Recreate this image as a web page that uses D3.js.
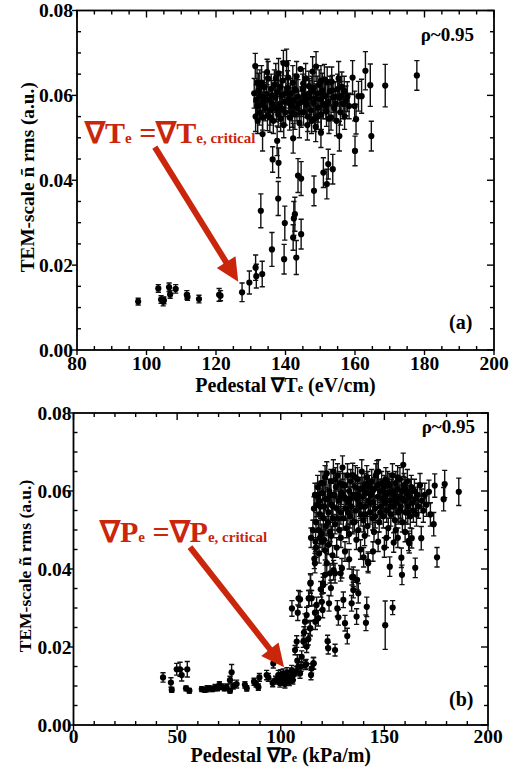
<!DOCTYPE html>
<html>
<head>
<meta charset="utf-8">
<script src="https://cdn.jsdelivr.net/npm/d3@7"></script>
<style>
  body { margin: 0; background: #fff; }
  text { font-family: "Liberation Serif", "Times New Roman", Times, serif; font-weight: bold; }
</style>
</head>
<body>
<div id="chart"></div>
<script>
/* TEM-scale fluctuation vs pedestal gradients, two panels */

// tick labels
var teTicks = [80, 100, 120, 140, 160, 180, 200];
var peTicks = [0, 50, 100, 150, 200];
var rmsTicks = [0.00, 0.02, 0.04, 0.06, 0.08];

// panel (a): [grad Te, rms, error]
var teLow = [
  [97.6,0.0114,0.0008],[103.4,0.0145,0.0009],[104.2,0.0119,0.0009],[104.8,0.0114,0.0010],[105.0,0.0117,0.0008],
  [106.5,0.0148,0.0010],[106.8,0.0131,0.0009],[108.4,0.0144,0.0010],[111.6,0.0130,0.0010],[111.8,0.0125,0.0008],
  [115.1,0.0120,0.0009],[120.9,0.0130,0.0015],[121.3,0.0128,0.0012],[127.5,0.0136,0.0022],[129.6,0.0159,0.0027],
  [131.4,0.0194,0.0030],[131.6,0.0174,0.0028],[133.3,0.0179,0.0030]
];
var teMid = [
  [132.9,0.0328,0.0040],[136.1,0.0237,0.0040],[137.9,0.0357,0.0040],[139.6,0.0214,0.0035],[139.8,0.0299,0.0040],
  [142.2,0.0265,0.0030],[142.4,0.0310,0.0040],[142.7,0.0320,0.0040],[143.1,0.0218,0.0040],[144.5,0.0273,0.0035],
  [143.6,0.0411,0.0040],[144.5,0.0404,0.0040],[148.2,0.0375,0.0035],[150.9,0.0418,0.0035],[151.9,0.0391,0.0035],
  [152.3,0.0438,0.0035],[153.6,0.0426,0.0035],[136.3,0.0449,0.0030],[138.0,0.0441,0.0035],[133.4,0.0509,0.0040],
  [137.6,0.0493,0.0035],[142.2,0.0499,0.0035],[148.7,0.0526,0.0035],[150.2,0.0512,0.0035],[155.5,0.0504,0.0035],
  [160.0,0.0469,0.0035],[160.3,0.0544,0.0035],[164.7,0.0504,0.0035]
];
var teHigh = [
  [131.0,0.0605,0.0035],[131.3,0.0669,0.0030],[131.6,0.0590,0.0035],[131.9,0.0575,0.0030],[132.2,0.0612,0.0040],
  [132.5,0.0560,0.0030],[132.8,0.0598,0.0035],[133.1,0.0630,0.0040],[133.4,0.0548,0.0030],[133.6,0.0585,0.0035],
  [133.9,0.0620,0.0035],[134.2,0.0570,0.0030],[134.5,0.0603,0.0040],[134.8,0.0552,0.0035],[135.0,0.0640,0.0040],
  [135.3,0.0590,0.0030],[135.6,0.0565,0.0035],[135.9,0.0615,0.0035],[136.2,0.0580,0.0040],[136.5,0.0540,0.0030],
  [136.8,0.0625,0.0035],[137.1,0.0595,0.0035],[137.4,0.0568,0.0030],[137.7,0.0608,0.0040],[138.0,0.0652,0.0035],
  [138.3,0.0578,0.0035],[138.6,0.0545,0.0030],[138.9,0.0600,0.0035],[139.2,0.0635,0.0045],[139.4,0.0676,0.0030],
  [139.7,0.0585,0.0035],[140.0,0.0560,0.0030],[140.3,0.0674,0.0035],[140.6,0.0618,0.0040],[140.9,0.0592,0.0035],
  [141.2,0.0548,0.0030],[141.5,0.0605,0.0035],[141.8,0.0575,0.0035],[142.1,0.0630,0.0040],[142.4,0.0588,0.0030],
  [142.7,0.0555,0.0035],[143.0,0.0612,0.0035],[143.3,0.0570,0.0030],[143.6,0.0597,0.0040],[144.0,0.0535,0.0035],
  [144.3,0.0662,0.0000],[144.6,0.0585,0.0035],[144.9,0.0615,0.0035],[145.2,0.0560,0.0030],[145.5,0.0600,0.0040],
  [145.8,0.0640,0.0035],[146.1,0.0578,0.0030],[146.4,0.0550,0.0035],[146.7,0.0622,0.0035],[147.0,0.0595,0.0040],
  [147.3,0.0565,0.0030],[147.6,0.0610,0.0035],[147.8,0.0656,0.0035],[148.1,0.0583,0.0035],[148.4,0.0545,0.0030],
  [148.8,0.0668,0.0035],[149.1,0.0605,0.0040],[149.4,0.0572,0.0035],[149.7,0.0625,0.0035],[150.0,0.0590,0.0030],
  [150.3,0.0555,0.0035],[150.6,0.0612,0.0040],[150.9,0.0580,0.0035],[151.2,0.0638,0.0035],[151.5,0.0598,0.0030],
  [151.8,0.0562,0.0035],[152.0,0.0632,0.0035],[152.4,0.0585,0.0040],[152.8,0.0610,0.0035],[153.1,0.0548,0.0030],
  [153.3,0.0632,0.0035],[153.7,0.0595,0.0035],[154.0,0.0570,0.0030],[154.3,0.0597,0.0035],[154.7,0.0540,0.0035],
  [155.0,0.0615,0.0035],[155.5,0.0595,0.0035],[155.8,0.0560,0.0030],[156.2,0.0620,0.0035],[156.6,0.0580,0.0035],
  [157.0,0.0550,0.0030],[157.4,0.0587,0.0035],[157.8,0.0597,0.0035],[158.3,0.0575,0.0030],[159.3,0.0642,0.0040],
  [159.9,0.0575,0.0035],[161.0,0.0598,0.0035],[161.9,0.0598,0.0040],[163.0,0.0658,0.0045],[164.4,0.0624,0.0050],
  [168.7,0.0623,0.0050],[177.8,0.0647,0.0035],
  [131.4,0.0550,0.0035],[132.0,0.0540,0.0030],[132.6,0.0625,0.0035],[133.3,0.0578,0.0030],[134.0,0.0595,0.0035],
  [134.7,0.0655,0.0030],[135.5,0.0548,0.0035],[136.0,0.0600,0.0035],[136.6,0.0572,0.0030],[137.2,0.0640,0.0035],
  [137.9,0.0555,0.0030],[138.5,0.0620,0.0035],[139.0,0.0568,0.0035],[139.5,0.0530,0.0030],[140.1,0.0605,0.0035],
  [140.8,0.0642,0.0040],[141.4,0.0580,0.0030],[142.0,0.0560,0.0035],[142.6,0.0615,0.0035],[143.2,0.0645,0.0035],
  [143.8,0.0580,0.0030],[144.5,0.0560,0.0035],[145.1,0.0628,0.0035],[145.7,0.0590,0.0030],[146.3,0.0530,0.0035],
  [146.9,0.0605,0.0035],[147.5,0.0540,0.0030],[148.2,0.0618,0.0035],[148.6,0.0592,0.0035],[149.3,0.0550,0.0030],
  [150.2,0.0635,0.0035],[150.8,0.0600,0.0035],[151.6,0.0575,0.0030],[152.5,0.0545,0.0035],[153.5,0.0612,0.0035],
  [154.5,0.0580,0.0035],[155.3,0.0640,0.0040],[156.0,0.0598,0.0035],[156.9,0.0610,0.0035],[131.8,0.0630,0.0040]
];

// panel (b): [grad Pe, rms, error]
var peLow = [
  [43.2,0.0122,0.0012],[47.0,0.0109,0.0012],[47.4,0.0090,0.0006],[49.8,0.0143,0.0015],[51.4,0.0143,0.0018],
  [52.2,0.0128,0.0015],[54.9,0.0143,0.0020],[54.3,0.0094,0.0006],[55.9,0.0088,0.0006],[61.9,0.0092,0.0006],
  [63.4,0.0090,0.0006],[64.5,0.0093,0.0008],[65.9,0.0094,0.0006],[67.0,0.0092,0.0006],[68.3,0.0096,0.0008],
  [69.5,0.0095,0.0007],[70.4,0.0103,0.0008],[71.5,0.0098,0.0007],[72.8,0.0094,0.0006],[73.9,0.0097,0.0008],
  [75.5,0.0115,0.0010],[76.3,0.0135,0.0020],[75.5,0.0088,0.0006],[77.1,0.0100,0.0008],[78.7,0.0105,0.0010],
  [82.7,0.0103,0.0008],[83.6,0.0094,0.0007],[87.1,0.0111,0.0009],[88.1,0.0105,0.0008],[89.7,0.0122,0.0010],
  [89.2,0.0097,0.0008],[93.2,0.0128,0.0012],[94.0,0.0122,0.0010],[96.1,0.0108,0.0010],[96.4,0.0158,0.0012],
  [97.5,0.0115,0.0010],[98.8,0.0128,0.0012],[99.6,0.0107,0.0010],[100.4,0.0120,0.0012],[101.2,0.0132,0.0012],
  [102.0,0.0105,0.0010],[102.9,0.0124,0.0012],[103.5,0.0115,0.0010],[104.1,0.0111,0.0010],[105.3,0.0141,0.0012],
  [106.1,0.0128,0.0012],[106.9,0.0192,0.0012],[107.7,0.0214,0.0015],[108.5,0.0150,0.0012],[109.3,0.0132,0.0012],
  [110.1,0.0175,0.0015],[110.9,0.0214,0.0015],[111.2,0.0237,0.0015],[112.2,0.0156,0.0012],[112.5,0.0201,0.0015],
  [113.3,0.0220,0.0015],[114.1,0.0248,0.0018],[114.6,0.0128,0.0012],[114.9,0.0145,0.0012],[115.7,0.0158,0.0015],
  [99.0,0.0118,0.0010],[100.0,0.0130,0.0012],[101.5,0.0112,0.0010],[103.0,0.0135,0.0012],[104.6,0.0125,0.0012],
  [105.8,0.0115,0.0010],[107.5,0.0138,0.0012],[108.0,0.0165,0.0015],[109.8,0.0150,0.0012],[111.9,0.0154,0.0012],
  [115.9,0.0158,0.0015]
];
var peMid = [
  [105.4,0.0299,0.0020],[108.2,0.0288,0.0020],[109.3,0.0322,0.0020],[111.7,0.0265,0.0020],[112.5,0.0282,0.0020],
  [113.6,0.0325,0.0020],[114.4,0.0365,0.0020],[114.9,0.0325,0.0020],[116.5,0.0288,0.0020],[117.3,0.0308,0.0020],
  [118.1,0.0274,0.0020],[119.3,0.0348,0.0020],[119.8,0.0316,0.0020],[120.5,0.0359,0.0020],[121.4,0.0385,0.0025],
  [120.2,0.0295,0.0020],[122.6,0.0215,0.0015],[122.9,0.0197,0.0015],[126.2,0.0192,0.0015],[123.3,0.0312,0.0020],
  [127.3,0.0299,0.0020],[127.8,0.0276,0.0020],[130.2,0.0321,0.0020],[131.0,0.0261,0.0020],[132.1,0.0228,0.0020],
  [134.2,0.0312,0.0020],[135.0,0.0346,0.0020],[136.6,0.0278,0.0020],[137.4,0.0338,0.0025],[141.1,0.0262,0.0020],
  [141.5,0.0303,0.0025],[124.2,0.0351,0.0020],[128.9,0.0389,0.0020],[150.4,0.0256,0.0062],[154.0,0.0301,0.0018],
  [113.5,0.0325,0.0020],[108.6,0.0325,0.0020],[116.7,0.0265,0.0020],[114.3,0.0248,0.0020],
  [114.6,0.0480,0.0025],[116.2,0.0426,0.0025],[114.3,0.0363,0.0025],[120.4,0.0363,0.0025],[125.5,0.0397,0.0025],
  [129.5,0.0402,0.0025],[134.4,0.0379,0.0020],[136.8,0.0372,0.0025],[142.1,0.0419,0.0025],[152.6,0.0406,0.0025],
  [158.5,0.0385,0.0025],[158.2,0.0429,0.0025],[164.9,0.0403,0.0025],[175.4,0.0430,0.0025],[173.8,0.0515,0.0030],
  [167.8,0.0479,0.0030],[161.7,0.0472,0.0025],[162.0,0.0466,0.0025],[163.2,0.0479,0.0025],[116.5,0.0415,0.0025],
  [122.2,0.0415,0.0025],[126.2,0.0389,0.0025],[123.8,0.0389,0.0025],[135.0,0.0380,0.0025],[142.2,0.0415,0.0025],
  [117.0,0.0455,0.0025],[118.5,0.0440,0.0025],[120.0,0.0470,0.0025],[121.5,0.0448,0.0025],[123.0,0.0462,0.0025],
  [125.0,0.0435,0.0025],[127.0,0.0455,0.0025],[131.0,0.0445,0.0025],[133.0,0.0425,0.0025],[138.5,0.0450,0.0025],
  [140.0,0.0430,0.0025],[144.5,0.0445,0.0025],[147.0,0.0470,0.0025],[150.0,0.0455,0.0025],[154.5,0.0468,0.0025],
  [156.5,0.0480,0.0025],[115.5,0.0500,0.0025],[116.8,0.0470,0.0025],[118.9,0.0480,0.0025],[120.9,0.0475,0.0025],
  [124.5,0.0485,0.0025],[129.0,0.0480,0.0025],[133.0,0.0490,0.0025],[136.5,0.0475,0.0025],[140.5,0.0485,0.0025],
  [145.0,0.0495,0.0025],[151.0,0.0480,0.0025],[155.5,0.0500,0.0025],[160.0,0.0495,0.0025]
];
var peHigh = [
  [116.0,0.0555,0.0030],[116.5,0.0590,0.0030],[117.0,0.0520,0.0025],[117.3,0.0564,0.0030],[117.8,0.0610,0.0030],
  [118.2,0.0500,0.0025],[118.6,0.0575,0.0030],[119.0,0.0540,0.0030],[119.4,0.0620,0.0030],[119.8,0.0490,0.0025],
  [120.2,0.0595,0.0030],[120.6,0.0530,0.0030],[121.0,0.0560,0.0030],[121.4,0.0635,0.0030],[121.8,0.0510,0.0025],
  [122.2,0.0645,0.0030],[122.6,0.0580,0.0030],[123.0,0.0545,0.0030],[123.4,0.0600,0.0030],[123.8,0.0495,0.0025],
  [124.2,0.0625,0.0030],[124.6,0.0565,0.0030],[125.0,0.0530,0.0030],[125.4,0.0650,0.0030],[125.8,0.0590,0.0030],
  [126.2,0.0515,0.0025],[126.6,0.0610,0.0030],[127.0,0.0555,0.0030],[127.4,0.0640,0.0030],[127.8,0.0575,0.0030],
  [128.2,0.0500,0.0025],[128.6,0.0620,0.0030],[129.0,0.0545,0.0030],[129.4,0.0595,0.0030],[129.8,0.0660,0.0030],
  [130.2,0.0530,0.0030],[130.6,0.0585,0.0030],[131.0,0.0615,0.0030],[131.4,0.0555,0.0030],[131.8,0.0505,0.0025],
  [132.2,0.0640,0.0030],[132.6,0.0570,0.0030],[133.0,0.0600,0.0030],[133.4,0.0535,0.0030],[133.8,0.0625,0.0030],
  [134.2,0.0560,0.0030],[134.7,0.0641,0.0030],[135.1,0.0590,0.0030],[135.5,0.0520,0.0025],[135.9,0.0610,0.0030],
  [136.3,0.0550,0.0030],[136.7,0.0580,0.0030],[137.1,0.0630,0.0030],[137.5,0.0500,0.0025],[137.9,0.0565,0.0030],
  [138.3,0.0605,0.0030],[138.7,0.0540,0.0030],[139.1,0.0650,0.0030],[139.5,0.0585,0.0030],[139.9,0.0525,0.0030],
  [140.3,0.0615,0.0030],[140.7,0.0560,0.0030],[141.1,0.0595,0.0030],[141.5,0.0635,0.0030],[141.9,0.0510,0.0025],
  [142.3,0.0575,0.0030],[142.7,0.0610,0.0030],[143.1,0.0545,0.0030],[143.5,0.0590,0.0030],[143.9,0.0625,0.0030],
  [144.3,0.0530,0.0030],[144.7,0.0570,0.0030],[145.1,0.0605,0.0030],[145.5,0.0555,0.0030],[145.9,0.0640,0.0030],
  [146.4,0.0648,0.0030],[146.8,0.0585,0.0030],[147.1,0.0650,0.0030],[147.5,0.0520,0.0025],[147.9,0.0600,0.0030],
  [148.3,0.0560,0.0030],[148.7,0.0620,0.0030],[149.1,0.0580,0.0030],[149.5,0.0535,0.0030],[149.9,0.0610,0.0030],
  [150.3,0.0570,0.0030],[150.7,0.0630,0.0030],[151.1,0.0550,0.0030],[151.5,0.0595,0.0030],[151.9,0.0505,0.0025],
  [152.3,0.0615,0.0030],[152.7,0.0575,0.0030],[153.1,0.0540,0.0030],[153.5,0.0600,0.0030],[153.9,0.0640,0.0030],
  [154.3,0.0560,0.0030],[154.7,0.0590,0.0030],[155.1,0.0525,0.0030],[155.5,0.0620,0.0030],[155.9,0.0570,0.0030],
  [156.3,0.0605,0.0030],[156.7,0.0545,0.0030],[157.1,0.0585,0.0030],[157.5,0.0630,0.0030],[157.9,0.0560,0.0030],
  [158.3,0.0600,0.0030],[158.7,0.0520,0.0025],[159.1,0.0667,0.0030],[159.5,0.0615,0.0030],[159.9,0.0575,0.0030],
  [160.3,0.0545,0.0030],[160.7,0.0595,0.0030],[161.1,0.0625,0.0030],[161.5,0.0560,0.0030],[162.0,0.0585,0.0030],
  [162.5,0.0535,0.0030],[163.0,0.0610,0.0030],[163.5,0.0570,0.0030],[164.0,0.0550,0.0030],[164.5,0.0600,0.0030],
  [165.0,0.0580,0.0030],[165.5,0.0540,0.0030],[166.0,0.0590,0.0030],[166.5,0.0560,0.0030],[167.2,0.0615,0.0030],
  [168.0,0.0575,0.0030],[168.8,0.0550,0.0030],[169.5,0.0590,0.0030],[170.3,0.0565,0.0030],[171.5,0.0598,0.0030],
  [172.2,0.0540,0.0030],[174.3,0.0614,0.0030],[178.6,0.0579,0.0030],[179.1,0.0618,0.0035],[185.9,0.0598,0.0035],
  [118.0,0.0590,0.0030],[119.2,0.0560,0.0030],[120.4,0.0620,0.0030],[121.6,0.0580,0.0030],[122.8,0.0520,0.0030],
  [124.0,0.0590,0.0030],[125.2,0.0560,0.0030],[126.4,0.0630,0.0030],[127.6,0.0530,0.0030],[128.8,0.0585,0.0030],
  [130.0,0.0615,0.0030],[131.2,0.0580,0.0030],[132.4,0.0545,0.0030],[133.6,0.0580,0.0030],[134.8,0.0520,0.0030],
  [136.0,0.0635,0.0030],[137.2,0.0590,0.0030],[138.4,0.0560,0.0030],[139.6,0.0605,0.0030],[140.8,0.0540,0.0030],
  [142.0,0.0620,0.0030],[143.2,0.0570,0.0030],[144.4,0.0600,0.0030],[145.6,0.0535,0.0030],[146.8,0.0615,0.0030],
  [148.0,0.0545,0.0030],[149.2,0.0600,0.0030],[150.4,0.0585,0.0030],[151.6,0.0620,0.0030],[152.8,0.0560,0.0030],
  [154.0,0.0595,0.0030],[155.2,0.0575,0.0030],[156.4,0.0635,0.0030],[157.6,0.0550,0.0030],[158.8,0.0580,0.0030],
  [160.0,0.0605,0.0030],[161.3,0.0545,0.0030],[162.6,0.0600,0.0030]
];

var red = "#c9260c";

var svg = d3.select("#chart").append("svg")
    .attr("width", 524)
    .attr("height", 769);

var panels = [
  {left: 77, right: 494, top: 10.5, bottom: 350, xDomain: [80, 200], xTicks: teTicks, xMinor: 5,
   points: teLow.concat(teMid, teHigh), sym: "T", xUnit: " (eV/cm)",
   titleY: 392, titleSize: 20, yTitleX: 34, yTitleSize: 19.3, labelGap: 4, xLabelY: 370,
   rho: [474, 41], tag: "(a)", tagPos: [449, 329], note: [85, 143],
   arrow: [[102.4, 0.0478], [126.4, 0.0161]]},
  {left: 73.5, right: 488, top: 413, bottom: 725, xDomain: [0, 200], xTicks: peTicks, xMinor: 10,
   points: peLow.concat(peMid, peHigh), sym: "P", xUnit: " (kPa/m)",
   titleY: 762, titleSize: 20, yTitleX: 31, yTitleSize: 17.5, labelGap: 2, xLabelY: 743,
   rho: [475, 433], tag: "(b)", tagPos: [449, 706], note: [100, 542],
   arrow: [[56.2, 0.0456], [101.6, 0.0148]]}
];

panels.forEach(function(p) {
  var x = d3.scaleLinear().domain(p.xDomain).range([p.left, p.right]);
  var y = d3.scaleLinear().domain([0, 0.08]).range([p.bottom, p.top]);
  var g = svg.append("g");

  // error bars
  var bars = p.points.filter(function(d) { return d[2] > 0; });
  g.selectAll(".eb").data(bars).enter().append("path")
      .attr("d", function(d) {
        var cx = x(d[0]), y0 = y(d[1] - d[2]), y1 = y(d[1] + d[2]);
        return "M" + cx + "," + y0 + "V" + y1 +
               "M" + (cx - 2.6) + "," + y0 + "H" + (cx + 2.6) +
               "M" + (cx - 2.6) + "," + y1 + "H" + (cx + 2.6);
      })
      .attr("fill", "none")
      .attr("stroke", "#111")
      .attr("stroke-width", 1.4);

  // points
  g.selectAll(".pt").data(p.points).enter().append("circle")
      .attr("cx", function(d) { return x(d[0]); })
      .attr("cy", function(d) { return y(d[1]); })
      .attr("r", 3.1)
      .attr("fill", "#000");

  // frame
  g.append("rect")
      .attr("x", p.left).attr("y", p.top)
      .attr("width", p.right - p.left).attr("height", p.bottom - p.top)
      .attr("fill", "none").attr("stroke", "#000").attr("stroke-width", 1.8);

  // ticks
  var ax = g.append("g").attr("stroke", "#000").attr("stroke-width", 1.4);
  var xMinor = d3.range(p.xDomain[0], p.xDomain[1] + 0.01, p.xMinor);
  var yMinor = d3.range(0, 0.0801, 0.005);
  xMinor.forEach(function(v) {
    var major = p.xTicks.indexOf(Math.round(v)) >= 0;
    ax.append("line").attr("x1", x(v)).attr("x2", x(v))
        .attr("y1", p.bottom + (major ? 5 : 0)).attr("y2", p.bottom - (major ? 0 : 4));
    ax.append("line").attr("x1", x(v)).attr("x2", x(v))
        .attr("y1", p.top).attr("y2", p.top + (major ? 7 : 4));
  });
  yMinor.forEach(function(v) {
    var major = Math.abs(v / 0.02 - Math.round(v / 0.02)) < 1e-6;
    ax.append("line").attr("y1", y(v)).attr("y2", y(v))
        .attr("x1", p.left - (major ? 5 : 0)).attr("x2", p.left + (major ? 0 : 4));
    ax.append("line").attr("y1", y(v)).attr("y2", y(v))
        .attr("x1", p.right).attr("x2", p.right - (major ? 7 : 4));
  });

  // tick labels
  g.selectAll(".xl").data(p.xTicks).enter().append("text")
      .attr("x", function(d) { return x(d); })
      .attr("y", p.xLabelY)
      .attr("text-anchor", "middle")
      .attr("font-size", 19.5)
      .text(function(d) { return d; });
  g.selectAll(".yl").data(rmsTicks).enter().append("text")
      .attr("x", p.left - p.labelGap)
      .attr("y", function(d) { return y(d) + 6.5; })
      .attr("text-anchor", "end")
      .attr("font-size", 19.5)
      .text(d3.format(".2f"));

  // axis titles
  var xt = g.append("text")
      .attr("x", (p.left + p.right) / 2)
      .attr("y", p.titleY)
      .attr("text-anchor", "middle")
      .attr("font-size", p.titleSize);
  xt.append("tspan").text("Pedestal \u2207" + p.sym);
  xt.append("tspan").attr("font-size", 12).text("e");
  xt.append("tspan").text(p.xUnit);

  g.append("text")
      .attr("transform", "translate(" + p.yTitleX + "," + ((p.top + p.bottom) / 2 - 3) + ") rotate(-90)")
      .attr("text-anchor", "middle")
      .attr("font-size", p.yTitleSize)
      .text("TEM-scale \u00f1 rms (a.u.)");

  // corner labels
  g.append("text").attr("x", p.rho[0]).attr("y", p.rho[1])
      .attr("text-anchor", "end").attr("font-size", 19).text("\u03c1~0.95");
  g.append("text").attr("x", p.tagPos[0]).attr("y", p.tagPos[1])
      .attr("font-size", 20).text(p.tag);

  // critical gradient annotation
  var nt = g.append("text").attr("x", p.note[0]).attr("y", p.note[1])
      .attr("fill", red).attr("font-size", 30);
  nt.append("tspan").text("\u2207" + p.sym);
  nt.append("tspan").attr("font-size", 15).text("e");
  nt.append("tspan").text(" =\u2207" + p.sym);
  nt.append("tspan").attr("font-size", 15).text("e, critical");

  var a0 = [x(p.arrow[0][0]), y(p.arrow[0][1])],
      a1 = [x(p.arrow[1][0]), y(p.arrow[1][1])],
      len = Math.hypot(a1[0] - a0[0], a1[1] - a0[1]),
      ux = (a1[0] - a0[0]) / len, uy = (a1[1] - a0[1]) / len,
      hl = 23, hw = 11;
  var bx = a1[0] - ux * hl, by = a1[1] - uy * hl;
  g.append("line")
      .attr("x1", a0[0]).attr("y1", a0[1])
      .attr("x2", bx + ux * 2).attr("y2", by + uy * 2)
      .attr("stroke", red).attr("stroke-width", 6);
  g.append("path")
      .attr("d", "M" + a1[0] + "," + a1[1] +
                 "L" + (bx - uy * hw) + "," + (by + ux * hw) +
                 "L" + (bx + uy * hw) + "," + (by - ux * hw) + "Z")
      .attr("fill", red);
});
</script>
</body>
</html>
